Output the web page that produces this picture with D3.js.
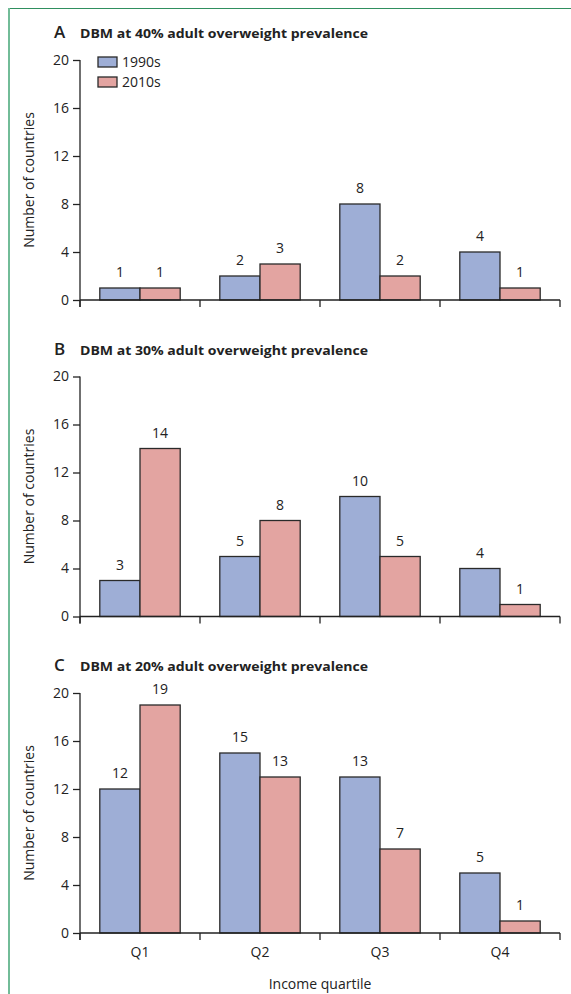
<!DOCTYPE html>
<html>
<head>
<meta charset="utf-8">
<script src="https://cdn.jsdelivr.net/npm/d3@7"></script>
<style>
  body { margin: 0; background: #fff; }
  svg text { font-family: "Open Sans", "Noto Sans", sans-serif; fill: #222; }
</style>
</head>
<body>
<div id="chart"></div>
<script>
// data
const quartiles = ["Q1", "Q2", "Q3", "Q4"];
const seriesNames = ["1990s", "2010s"];
const panelLetters = ["A", "B", "C"];
const panelTitles = [
  "DBM at 40% adult overweight prevalence",
  "DBM at 30% adult overweight prevalence",
  "DBM at 20% adult overweight prevalence"
];
const a1990 = [1, 2, 8, 4], a2010 = [1, 3, 2, 1];
const b1990 = [3, 5, 10, 4], b2010 = [14, 8, 5, 1];
const c1990 = [12, 15, 13, 5], c2010 = [19, 13, 7, 1];
const yTicks = [0, 4, 8, 12, 16, 20];

const panelValues = [[a1990, a2010], [b1990, b2010], [c1990, c2010]];
const colors = ["#9eaed6", "#e3a4a1"];

const W = 571, H = 994;
const svg = d3.select("#chart").append("svg")
  .attr("width", W).attr("height", H);

// green frame
svg.append("line").attr("x1", 8).attr("x2", W).attr("y1", 8.5).attr("y2", 8.5)
  .attr("stroke", "#2f8f5f").attr("stroke-width", 1.2);
svg.append("line").attr("x1", 9).attr("x2", 9).attr("y1", 8).attr("y2", H)
  .attr("stroke", "#72bc98").attr("stroke-width", 2);

const x = d3.scaleBand().domain(quartiles).range([80, 560])
  .paddingInner(0.33).paddingOuter(0.165);
const xs = d3.scaleBand().domain(seriesNames).range([0, x.bandwidth()]);

panelValues.forEach((vals, p) => {
  const off = p * 316.5;
  const zero = 300 + off;
  const y = d3.scaleLinear().domain([0, 20]).range([zero, zero - 240]);
  const g = svg.append("g");

  // title
  g.append("text").attr("x", 54).attr("y", 38 + off)
    .attr("font-size", "17px").attr("font-weight", 600).text(panelLetters[p]);
  g.append("text").attr("x", 80).attr("y", 38 + off)
    .attr("font-size", "13px").attr("font-weight", 700)
    .attr("textLength", 288).attr("lengthAdjust", "spacingAndGlyphs")
    .text(panelTitles[p]);

  // y axis
  const yAxis = g.append("g").attr("transform", "translate(80,0)")
    .call(d3.axisLeft(y).tickValues(yTicks).tickSize(7).tickSizeOuter(0).tickPadding(4));
  yAxis.selectAll("path, line").attr("stroke", "#222").attr("stroke-width", 1.3);
  yAxis.selectAll("text").attr("font-size", "14px").style("font-family", null).attr("fill", "#222");
  yAxis.select(".domain").remove();
  g.append("line").attr("x1", 80).attr("x2", 80)
    .attr("y1", y(20)).attr("y2", zero + 7)
    .attr("stroke", "#222").attr("stroke-width", 1.3);

  g.append("text")
    .attr("transform", `translate(34,${(y(0) + y(20)) / 2}) rotate(-90)`)
    .attr("text-anchor", "middle").attr("font-size", "14px")
    .text("Number of countries");

  // bars
  seriesNames.forEach((s, si) => {
    const data = quartiles.map((q, i) => ({ q, v: vals[si][i] }));
    g.selectAll(".bar" + si).data(data).enter().append("rect")
      .attr("x", d => x(d.q) + xs(s))
      .attr("y", d => y(d.v))
      .attr("width", xs.bandwidth())
      .attr("height", d => zero - y(d.v))
      .attr("fill", colors[si])
      .attr("stroke", "#2a2a2a").attr("stroke-width", 1.3);
    g.selectAll(".lab" + si).data(data).enter().append("text")
      .attr("x", d => x(d.q) + xs(s) + xs.bandwidth() / 2)
      .attr("y", d => y(d.v) - 11)
      .attr("text-anchor", "middle").attr("font-size", "14px")
      .text(d => d.v);
  });

  // x axis line and boundary ticks
  g.append("line").attr("x1", 80).attr("x2", 560).attr("y1", zero).attr("y2", zero)
    .attr("stroke", "#222").attr("stroke-width", 1.3);
  d3.range(quartiles.length + 1).forEach(i => {
    const tx = 80 + i * x.step();
    g.append("line").attr("x1", tx).attr("x2", tx).attr("y1", zero).attr("y2", zero + 7)
      .attr("stroke", "#222").attr("stroke-width", 1.3);
  });

  if (p === 0) {
    // legend
    seriesNames.forEach((s, si) => {
      g.append("rect").attr("x", 98).attr("y", 57 + si * 20)
        .attr("width", 19).attr("height", 10)
        .attr("fill", colors[si]).attr("stroke", "#2a2a2a").attr("stroke-width", 1.3);
      g.append("text").attr("x", 122).attr("y", 67 + si * 20)
        .attr("font-size", "14px").text(s);
    });
  }

  if (p === 2) {
    g.selectAll(".qlab").data(quartiles).enter().append("text")
      .attr("x", d => x(d) + x.bandwidth() / 2)
      .attr("y", zero + 24)
      .attr("text-anchor", "middle").attr("font-size", "14px")
      .text(d => d);
    g.append("text").attr("x", 320).attr("y", zero + 56)
      .attr("text-anchor", "middle").attr("font-size", "14px")
      .text("Income quartile");
  }
});
</script>
</body>
</html>
